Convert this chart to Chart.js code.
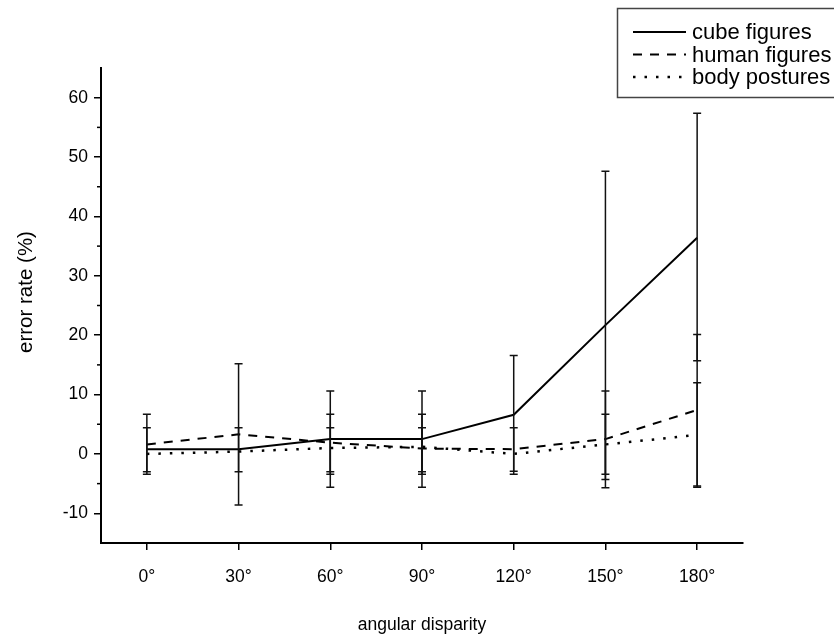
<!DOCTYPE html>
<html>
<head>
<meta charset="utf-8">
<script src="https://cdn.jsdelivr.net/npm/chart.js@4.4.1/dist/chart.umd.min.js"></script>
<style>
  html, body { margin: 0; padding: 0; background: #fff; }
  canvas { display: block; }
</style>
</head>
<body>
<canvas id="grafico" width="834" height="643"></canvas>
<script>
// valores (taxa de erro em %)
const angulos = ['0°', '30°', '60°', '90°', '120°', '150°', '180°'];

const cuboMedia = [0.8, 0.8, 2.5, 2.5, 6.6, 21.7, 36.4];
const cuboMin   = [-3.0, -3.0, -5.6, -5.6, -3.4, -4.3, 15.7];
const cuboMax   = [4.4, 4.4, 10.6, 10.6, 16.6, 47.6, 57.4];

const humanoMedia = [1.6, 3.3, 1.9, 0.9, 0.8, 2.5, 7.4];
const humanoMin   = [-3.4, -8.6, -3.4, -3.4, -2.9, -5.7, -5.4];
const humanoMax   = [6.7, 15.2, 6.7, 6.7, 4.4, 10.6, 20.1];

const posturaMedia = [0.0, 0.4, 1.0, 1.2, 0.0, 1.6, 3.2];
const posturaMin   = [null, null, -3.0, -3.0, null, -3.4, -5.6];
const posturaMax   = [null, null, 4.4, 4.4, null, 6.7, 12.0];

const yTicks = [-10, 0, 10, 20, 30, 40, 50, 60];
const yMinorTicks = [-5, 5, 15, 25, 35, 45, 55];

const fonte = 'Liberation Sans, Arial, sans-serif';

const barrasErro = [
    { min: cuboMin, max: cuboMax },
    { min: humanoMin, max: humanoMax },
    { min: posturaMin, max: posturaMax }
];

// barras de erro desenhadas com as escalas do próprio gráfico
const pluginErro = {
    id: 'barrasErro',
    afterDatasetsDraw(chart) {
        const ctx = chart.ctx;
        const y = chart.scales.y;
        ctx.save();
        ctx.strokeStyle = '#111';
        ctx.lineWidth = 1.5;
        barrasErro.forEach((b, i) => {
            const meta = chart.getDatasetMeta(i);
            meta.data.forEach((pt, j) => {
                if (b.min[j] === null) return;
                const x = pt.x;
                const y1 = y.getPixelForValue(b.min[j]);
                const y2 = y.getPixelForValue(b.max[j]);
                ctx.beginPath();
                ctx.moveTo(x, y1); ctx.lineTo(x, y2);
                ctx.moveTo(x - 4, y1); ctx.lineTo(x + 4, y1);
                ctx.moveTo(x - 4, y2); ctx.lineTo(x + 4, y2);
                ctx.stroke();
            });
        });
        ctx.restore();
    }
};

// marcas menores do eixo y e título do eixo y
const pluginMarcas = {
    id: 'marcasMenores',
    afterDraw(chart) {
        const ctx = chart.ctx;
        const y = chart.scales.y;
        const left = chart.chartArea.left;
        ctx.save();
        ctx.strokeStyle = '#000';
        ctx.lineWidth = 1.5;
        yMinorTicks.forEach(v => {
            const py = y.getPixelForValue(v);
            ctx.beginPath();
            ctx.moveTo(left - 4, py);
            ctx.lineTo(left, py);
            ctx.stroke();
        });
        ctx.translate(26, 292);
        ctx.rotate(-Math.PI / 2);
        ctx.font = '20.5px ' + fonte;
        ctx.fillStyle = '#000';
        ctx.textAlign = 'center';
        ctx.textBaseline = 'middle';
        ctx.fillText('error rate (%)', 0, 0);
        ctx.restore();
    }
};

// legenda em caixa no canto superior direito
const pluginLegenda = {
    id: 'legendaCaixa',
    afterDraw(chart) {
        const ctx = chart.ctx;
        ctx.save();
        ctx.strokeStyle = '#444';
        ctx.lineWidth = 1.5;
        ctx.strokeRect(617.5, 8.5, 240, 89);
        ctx.font = '22px ' + fonte;
        ctx.fillStyle = '#000';
        ctx.textBaseline = 'middle';
        chart.data.datasets.forEach((ds, i) => {
            const ly = 32 + i * 22.5;
            ctx.beginPath();
            ctx.setLineDash(ds.borderDash || []);
            ctx.lineWidth = ds.borderWidth;
            ctx.strokeStyle = '#000';
            ctx.moveTo(633, ly);
            ctx.lineTo(686, ly);
            ctx.stroke();
            ctx.setLineDash([]);
            ctx.fillText(ds.label, 692, ly + 1);
        });
        ctx.restore();
    }
};

const ctx = document.getElementById('grafico').getContext('2d');

new Chart(ctx, {
    type: 'line',
    data: {
        labels: angulos,
        datasets: [
            {
                label: 'cube figures',
                data: cuboMedia,
                borderColor: '#000',
                borderWidth: 2,
                pointRadius: 0
            },
            {
                label: 'human figures',
                data: humanoMedia,
                borderColor: '#000',
                borderWidth: 2,
                borderDash: [9, 8],
                pointRadius: 0
            },
            {
                label: 'body postures',
                data: posturaMedia,
                borderColor: '#000',
                borderWidth: 2.5,
                borderDash: [2.5, 9],
                pointRadius: 0
            }
        ]
    },
    options: {
        responsive: false,
        animation: false,
        devicePixelRatio: 1,
        layout: { padding: { left: 0, top: 68, right: 91, bottom: 0 } },
        plugins: {
            legend: { display: false },
            tooltip: { enabled: false }
        },
        scales: {
            x: {
                type: 'category',
                offset: true,
                grid: {
                    drawOnChartArea: false,
                    drawTicks: true,
                    tickLength: 7,
                    color: '#000',
                    lineWidth: 1.5
                },
                border: { color: '#000', width: 2 },
                ticks: {
                    color: '#000',
                    padding: 17,
                    maxRotation: 0,
                    font: { family: fonte, size: 17.5 }
                },
                title: {
                    display: true,
                    text: 'angular disparity',
                    color: '#000',
                    font: { family: fonte, size: 17.5 },
                    padding: { top: 0, bottom: 7 }
                },
                afterFit: s => { s.height = 100; }
            },
            y: {
                min: -15,
                max: 65,
                afterBuildTicks: s => { s.ticks = yTicks.map(v => ({ value: v })); },
                grid: {
                    drawOnChartArea: false,
                    drawTicks: true,
                    tickLength: 7,
                    color: '#000',
                    lineWidth: 1.5
                },
                border: { color: '#000', width: 2 },
                ticks: {
                    color: '#000',
                    padding: 6,
                    font: { family: fonte, size: 17.5 }
                },
                title: { display: false },
                afterFit: s => { s.width = 101; }
            }
        }
    },
    plugins: [pluginErro, pluginMarcas, pluginLegenda]
});
</script>
</body>
</html>
